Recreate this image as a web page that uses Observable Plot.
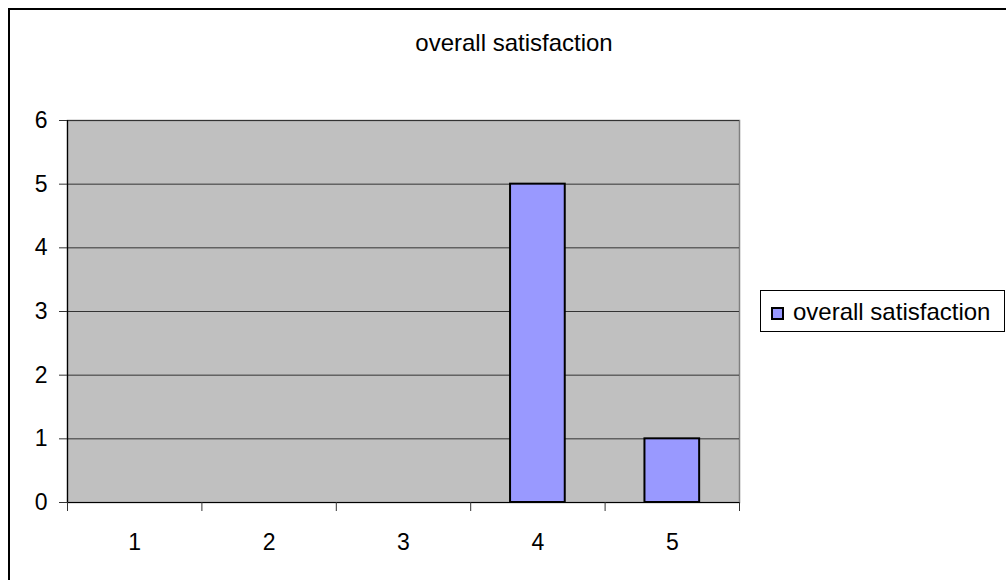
<!DOCTYPE html>
<html>
<head>
<meta charset="utf-8">
<script src="https://cdn.jsdelivr.net/npm/d3@7"></script>
<script src="https://cdn.jsdelivr.net/npm/@observablehq/plot@0.6"></script>
<style>
  html, body { margin: 0; padding: 0; background: #fff; overflow: hidden; }
  #chart { position: relative; width: 1006px; height: 580px; overflow: hidden;
           font-family: "Liberation Sans", Arial, sans-serif; color: #000; }
  #chart svg { position: absolute; left: 0; top: 0; }
  #outline { position: absolute; left: 8px; top: 8px; width: 1100px; height: 700px;
             border: 2px solid #000; box-sizing: border-box; }
  #title { position: absolute; left: 0; top: 31px; width: 1028px; text-align: center;
           font-size: 24px; line-height: 24px; white-space: nowrap; }
  #legend { position: absolute; left: 760px; top: 290px; width: 245px; height: 42px;
            border: 1px solid #000; box-sizing: border-box; background: #fff; }
  #legend .swatch { position: absolute; left: 10px; top: 16px; width: 13px; height: 13px;
                    background: #9999ff; border: 2px solid #000; box-sizing: border-box; }
  #legend .label { position: absolute; left: 32px; top: 9px; font-size: 24px; line-height: 24px;
                   white-space: nowrap; }
</style>
</head>
<body>
<div id="chart">
  <div id="outline"></div>
  <div id="title"></div>
  <div id="legend"><div class="swatch"></div><div class="label"></div></div>
</div>
<script>
// Survey ratings and how many responses gave each
const seriesName = "overall satisfaction";
const ratings = [1, 2, 3, 4, 5];
const counts = [0, 0, 0, 5, 1];
const yTicks = [0, 1, 2, 3, 4, 5, 6];
const categoryBounds = [0.5, 1.5, 2.5, 3.5, 4.5, 5.5];

const data = ratings.map((r, i) => ({rating: r, count: counts[i]}));
const barHalf = 0.2035; // half of the bar width, in category units

document.getElementById("title").textContent = seriesName;
document.querySelector("#legend .label").textContent = seriesName;

const chart = Plot.plot({
  width: 1006,
  height: 580,
  marginLeft: 67,
  marginRight: 267,
  marginTop: 120,
  marginBottom: 78,
  style: {fontFamily: "'Liberation Sans', Arial, sans-serif", fontSize: "23px", color: "#000", background: "transparent"},
  x: {type: "linear", domain: [0.5, 5.5], axis: null},
  y: {domain: [0, 6], axis: null},
  marks: [
    // plot area
    Plot.frame({fill: "#c0c0c0", stroke: "#808080", strokeWidth: 1.5}),
    // horizontal gridlines
    Plot.ruleY(yTicks.filter(v => v > 0), {stroke: "#333", strokeWidth: 1}),
    // bars
    Plot.rectY(data.filter(d => d.count > 0), {
      x1: d => d.rating - barHalf,
      x2: d => d.rating + barHalf,
      y: "count",
      fill: "#9999ff",
      stroke: "#000",
      strokeWidth: 2
    }),
    // axis lines
    Plot.ruleX([0.5], {stroke: "#000", strokeWidth: 1.2}),
    Plot.ruleY([0], {stroke: "#000", strokeWidth: 1.2}),
    // y axis ticks and labels
    Plot.axisY(yTicks, {tickSize: 8, tickPadding: 12, stroke: "#333", fontSize: 23, fill: "#000",
                        tickFormat: d => String(d), label: null}),
    // category boundary ticks
    Plot.axisX(categoryBounds, {tickSize: 9, stroke: "#333", text: null, label: null}),
    // category labels at band centers
    Plot.axisX(ratings, {tickSize: 0, tickPadding: 31, fontSize: 23, fill: "#000",
                         tickFormat: d => String(d), label: null})
  ]
});

document.getElementById("chart").appendChild(chart);
</script>
</body>
</html>
